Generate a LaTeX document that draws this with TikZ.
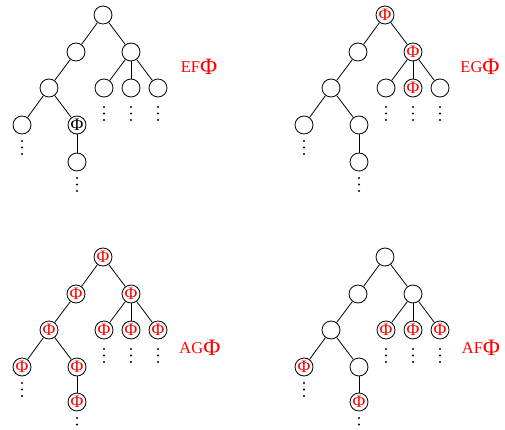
\documentclass[tikz,border=0pt]{standalone}
\usepackage{fontspec}
\setmainfont{Liberation Serif}
\begin{document}
\begin{tikzpicture}[x=1pt,y=-1pt,
  tn/.style={circle,draw,line width=0.8pt,minimum size=18pt,inner sep=0pt,
    font=\fontsize{17.5}{17.5}\selectfont,text=red},
  ed/.style={line width=0.8pt},
  dt/.style={fill=black},
  lbl/.style={text=red,font=\fontsize{16.5}{16.5}\selectfont,inner sep=0pt,anchor=center}]
\useasboundingbox (0,0) rectangle (505,430);
\newcommand\bigphi{\raisebox{-1.8pt}{\fontsize{23.5}{23.5}\selectfont Φ}}
\newcommand\treeedges{%
  \draw[ed] (r) -- (a); \draw[ed] (r) -- (b);
  \draw[ed] (a) -- (c); \draw[ed] (c) -- (g); \draw[ed] (c) -- (h);
  \draw[ed] (h) -- (i);
  \draw[ed] (b) -- (d); \draw[ed] (b) -- (e); \draw[ed] (b) -- (f);
  \foreach \n in {d,e,f}{
    \foreach \k in {19,25.5,32}{\fill[dt] ([yshift=-\k pt]\n.center) circle (1.1pt);}}
  \foreach \n in {g,i}{
    \foreach \k in {16,22.5,29}{\fill[dt] ([yshift=-\k pt]\n.center) circle (1.1pt);}}
}
% ---------- EF
\begin{scope}[shift={(103,15)},name prefix=ef-]
  \node[tn] (r) at (0,0) {};
  \node[tn] (a) at (-27,37) {};
  \node[tn] (b) at (28,37) {};
  \node[tn] (c) at (-54,73) {};
  \node[tn] (d) at (1,73) {};
  \node[tn] (e) at (28,73) {};
  \node[tn] (f) at (55,73) {};
  \node[tn] (g) at (-81,110) {};
  \node[tn,text=black] (h) at (-26,110) {Φ};
  \node[tn] (i) at (-26,147) {};
  \treeedges
\end{scope}
\node[lbl] (lef) at (199,67) {EF\bigphi};
% ---------- EG
\begin{scope}[shift={(385,15)},name prefix=eg-]
  \node[tn] (r) at (0,0) {Φ};
  \node[tn] (a) at (-27,37) {};
  \node[tn] (b) at (28,37) {Φ};
  \node[tn] (c) at (-54,73) {};
  \node[tn] (d) at (1,73) {};
  \node[tn] (e) at (28,73) {Φ};
  \node[tn] (f) at (55,73) {};
  \node[tn] (g) at (-81,110) {};
  \node[tn] (h) at (-26,110) {};
  \node[tn] (i) at (-26,147) {};
  \treeedges
\end{scope}
\node[lbl] (leg) at (480,67) {EG\bigphi};
% ---------- AG
\begin{scope}[shift={(103,257)},name prefix=ag-]
  \node[tn] (r) at (0,0) {Φ};
  \node[tn] (a) at (-27,37) {Φ};
  \node[tn] (b) at (28,37) {Φ};
  \node[tn] (c) at (-54,73) {Φ};
  \node[tn] (d) at (1,73) {Φ};
  \node[tn] (e) at (28,73) {Φ};
  \node[tn] (f) at (55,73) {Φ};
  \node[tn] (g) at (-81,110) {Φ};
  \node[tn] (h) at (-26,110) {Φ};
  \node[tn] (i) at (-26,145) {Φ};
  \treeedges
\end{scope}
\node[lbl] (lag) at (200,348) {AG\bigphi};
% ---------- AF
\begin{scope}[shift={(385,257)},name prefix=af-]
  \node[tn] (r) at (0,0) {};
  \node[tn] (a) at (-27,37) {};
  \node[tn] (b) at (28,37) {};
  \node[tn] (c) at (-54,73) {};
  \node[tn] (d) at (1,73) {Φ};
  \node[tn] (e) at (28,73) {Φ};
  \node[tn] (f) at (55,73) {Φ};
  \node[tn] (g) at (-81,110) {Φ};
  \node[tn] (h) at (-26,110) {};
  \node[tn] (i) at (-26,145) {Φ};
  \treeedges
\end{scope}
\node[lbl] (laf) at (481,348) {AF\bigphi};
\end{tikzpicture}
\end{document}
